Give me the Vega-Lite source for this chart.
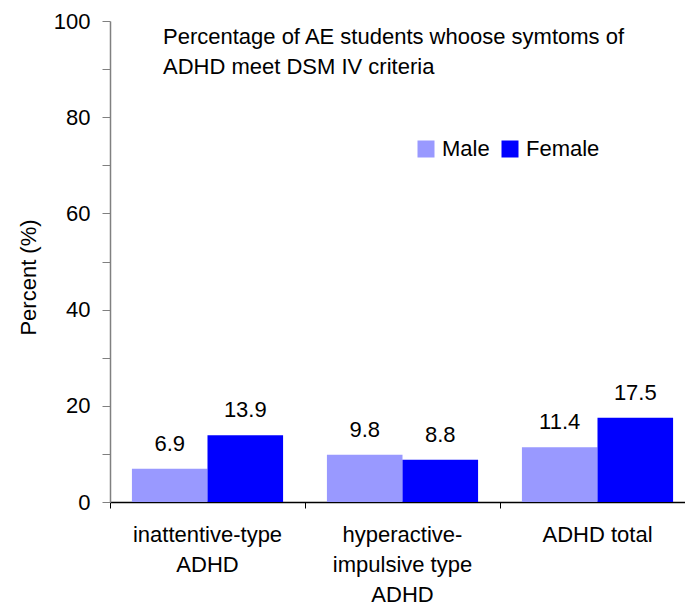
{
  "$schema": "https://vega.github.io/schema/vega-lite/v6.json",
  "autosize": "none",
  "width": 575,
  "height": 481,
  "padding": {"left": 110, "top": 21, "right": 0, "bottom": 102},
  "background": "white",
  "config": {"font": "Liberation Sans", "view": {"stroke": null}},
  "title": {
    "text": ["Percentage of AE students whoose symtoms of", "ADHD meet DSM IV criteria"],
    "anchor": "start",
    "frame": "group",
    "orient": "top",
    "baseline": "top",
    "offset": 0,
    "dx": 53,
    "dy": 69,
    "lineHeight": 30,
    "fontSize": 22,
    "fontWeight": "normal",
    "color": "black"
  },
  "data": {
    "values": [
      {"category": "inattentive-type|ADHD", "sex": "Male", "value": 6.9},
      {"category": "inattentive-type|ADHD", "sex": "Female", "value": 13.9},
      {"category": "hyperactive-|impulsive type|ADHD", "sex": "Male", "value": 9.8},
      {"category": "hyperactive-|impulsive type|ADHD", "sex": "Female", "value": 8.8},
      {"category": "ADHD total", "sex": "Male", "value": 11.4},
      {"category": "ADHD total", "sex": "Female", "value": 17.5}
    ]
  },
  "encoding": {
    "x": {
      "field": "category",
      "type": "nominal",
      "sort": null,
      "scale": {"range": [0, 585], "paddingInner": 0, "paddingOuter": 0},
      "axis": {
        "title": null,
        "labelAngle": 0,
        "labelExpr": "split(datum.label, '|')",
        "labelFontSize": 22,
        "labelColor": "black",
        "labelLineHeight": 30,
        "labelPadding": 16,
        "bandPosition": 0,
        "tickSize": 6,
        "tickColor": "black",
        "domainColor": "black",
        "domainWidth": 1.5,
        "labelLimit": 300
      }
    },
    "xOffset": {
      "field": "sex",
      "type": "nominal",
      "sort": ["Male", "Female"],
      "scale": {"paddingInner": 0, "paddingOuter": 0.29}
    },
    "y": {
      "field": "value",
      "type": "quantitative",
      "scale": {"domain": [0, 100], "nice": false},
      "axis": {
        "title": "Percent (%)",
        "titleFontSize": 22,
        "titleFontWeight": "normal",
        "titleColor": "black",
        "titleAngle": -90,
        "titleX": -82,
        "titleY": 256,
        "titleAlign": "center",
        "titleBaseline": "middle",
        "values": [0, 10, 20, 30, 40, 50, 60, 70, 80, 90, 100],
        "labelExpr": "datum.value % 20 == 0 ? datum.label : ''",
        "labelFontSize": 22,
        "labelColor": "black",
        "labelPadding": 12,
        "tickSize": 8,
        "tickColor": "#808080",
        "domainColor": "#808080",
        "domainWidth": 1.5,
        "grid": false
      }
    }
  },
  "layer": [
    {
      "mark": {"type": "bar"},
      "encoding": {
        "color": {
          "field": "sex",
          "type": "nominal",
          "sort": ["Male", "Female"],
          "scale": {"domain": ["Male", "Female"], "range": ["#9999FF", "#0000FF"]},
          "legend": {
            "title": null,
            "orient": "none",
            "direction": "horizontal",
            "legendX": 305,
            "legendY": 117,
            "symbolType": "square",
            "symbolSize": 289,
            "symbolStrokeWidth": 0,
            "labelFontSize": 22,
            "labelColor": "black",
            "labelOffset": 5,
            "columnPadding": 9
          }
        }
      }
    },
    {
      "mark": {"type": "text", "baseline": "alphabetic", "dy": -18, "fontSize": 22, "color": "black"},
      "encoding": {
        "text": {"field": "value", "type": "quantitative", "format": ".1f"}
      }
    }
  ]
}
